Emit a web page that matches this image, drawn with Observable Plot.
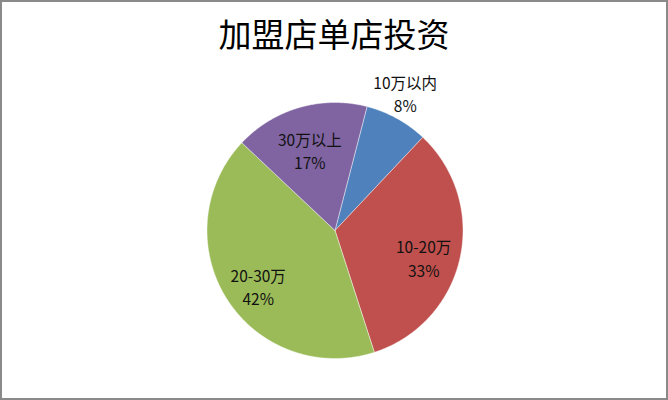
<!DOCTYPE html>
<html>
<head>
<meta charset="utf-8">
<script src="https://cdn.jsdelivr.net/npm/d3@7"></script>
<script src="https://cdn.jsdelivr.net/npm/@observablehq/plot@0.6"></script>
<style>
  html, body { margin: 0; padding: 0; background: #fff; }
  #wrap { position: relative; width: 668px; height: 400px; overflow: hidden; background: #fff; font-family: "Noto Sans CJK SC", "Noto Sans", sans-serif; }
  #title { height: 70px; box-sizing: border-box; padding-bottom: 4px; display: flex; align-items: center; justify-content: center; font-size: 33px; color: #000; }
  #frame { position: absolute; left: 0; top: 0; width: 668px; height: 400px; box-sizing: border-box; border: 2px solid #8a8a8a; pointer-events: none; }
  svg { display: block; }
</style>
</head>
<body>
<div id="wrap">
  <div id="title">加盟店单店投资</div>
  <div id="chart"></div>
  <div id="frame"></div>
</div>
<script>
const categories = ["10万以内", "10-20万", "20-30万", "30万以上"];
const values = [8, 33, 42, 17];
const colors = ["#4F81BD", "#C0504D", "#9BBB59", "#8064A2"];
const percentLabels = ["8%", "33%", "42%", "17%"];

const startDeg = 14.5; // rotation of first slice (clockwise from 12 o'clock)
const total = d3.sum(values);

// Build slice polygons (unit-circle data space) from the values
const slicePoints = [];
const labels = [];
let acc = 0;
values.forEach((v, i) => {
  const a0 = (startDeg + acc / total * 360) * Math.PI / 180;
  const a1 = (startDeg + (acc + v) / total * 360) * Math.PI / 180;
  acc += v;
  slicePoints.push({cat: categories[i], x: 0, y: 0});
  const n = Math.max(2, Math.ceil((a1 - a0) / (Math.PI / 360)));
  for (let k = 0; k <= n; k++) {
    const a = a0 + (a1 - a0) * k / n;
    slicePoints.push({cat: categories[i], x: Math.sin(a), y: Math.cos(a)});
  }
  slicePoints.push({cat: categories[i], x: 0, y: 0});
  const mid = (a0 + a1) / 2;
  const outside = v / total < 0.1;
  const r = outside ? 1.2 : 0.71;
  labels.push({text: categories[i] + "\n" + percentLabels[i], x: r * Math.sin(mid), y: r * Math.cos(mid), outside});
});

const chart = Plot.plot({
  width: 668,
  height: 330,
  marginLeft: 206.5,
  marginRight: 205.5,
  marginTop: 32,
  marginBottom: 42,
  x: {domain: [-1, 1], axis: null},
  y: {domain: [-1, 1], axis: null},
  color: {domain: categories, range: colors},
  style: {fontFamily: "'Noto Sans CJK SC', 'Noto Sans', sans-serif", background: "transparent"},
  marks: [
    Plot.line(slicePoints, {x: "x", y: "y", z: "cat", fill: "cat", stroke: "#ffffff", strokeOpacity: 0.6, strokeWidth: 0.7, strokeLinejoin: "round"}),
    Plot.text(labels.filter(d => !d.outside), {x: "x", y: "y", text: "text", fontSize: 15.5, fill: "#111", lineHeight: 1.5, lineAnchor: "middle", dy: 7}),
    Plot.text(labels.filter(d => d.outside), {x: "x", y: "y", text: "text", fontSize: 15.5, fill: "#111", lineHeight: 1.5, lineAnchor: "middle", dx: -4, dy: -3})
  ]
});
document.getElementById("chart").appendChild(chart);
</script>
</body>
</html>
